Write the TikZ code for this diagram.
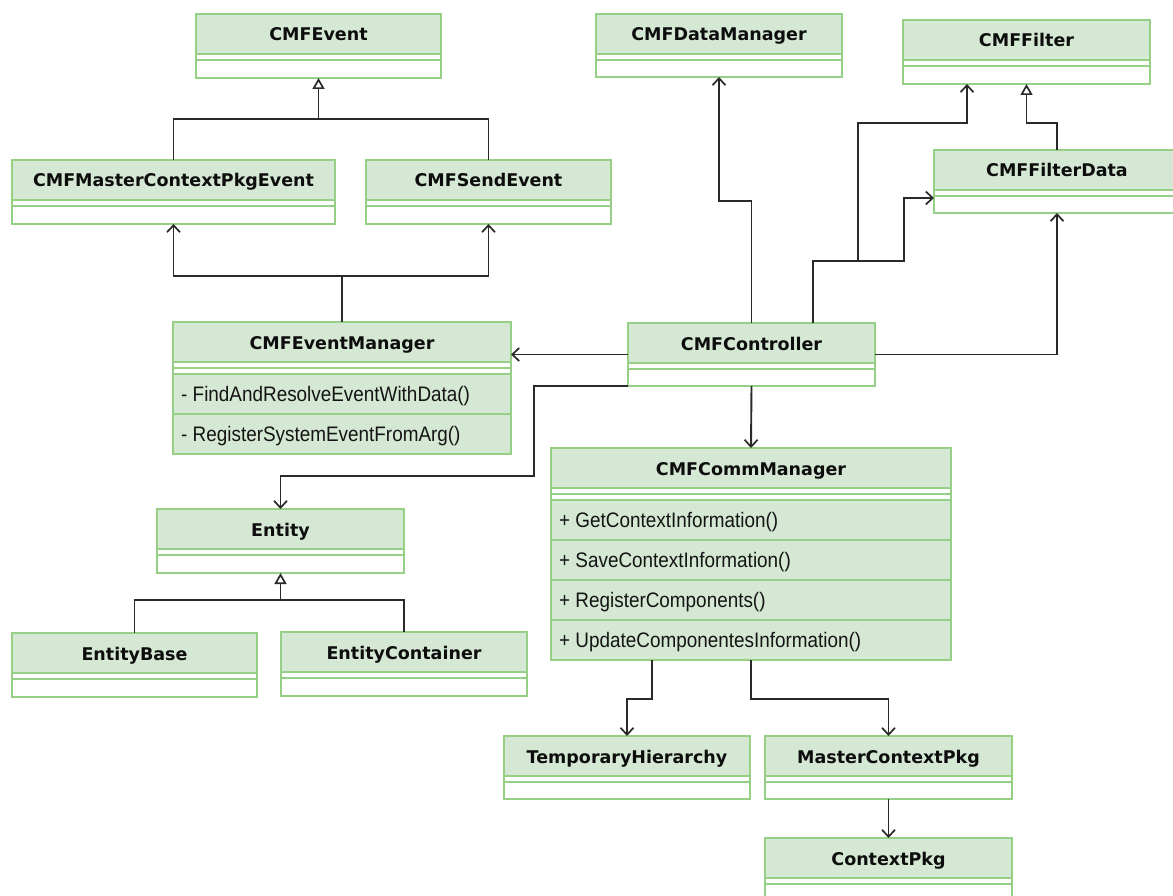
\documentclass[tikz,border=0pt]{standalone}
\usepackage{fontspec}
\newfontfamily\titlefont{DejaVu Sans}
\newfontfamily\opfont{Liberation Sans}[FakeStretch=0.9]
\usetikzlibrary{arrows.meta}
\definecolor{hdrfill}{HTML}{D5E8D4}
\definecolor{edgegreen}{HTML}{96CF86}
\definecolor{wire}{HTML}{2A2A2A}
\tikzset{
  classframe/.style={rectangle, draw=edgegreen, line width=1.6pt, inner sep=0pt, outer sep=0pt},
  rulegreen/.style={draw=edgegreen, line width=1.6pt},
  classtitle/.style={font=\titlefont\bfseries\fontsize{17.5}{20}\selectfont, text=black!95, inner sep=0pt, anchor=base},
  optext/.style={font=\opfont\fontsize{21}{24}\selectfont, text=black!92, inner sep=0pt, anchor=base west},
  wireline/.style={draw=wire, line width=1.9pt},
  assoc/.style={wireline, -{Straight Barb[length=7pt,width=13pt,line width=1.7pt]}},
  gen/.style={wireline, -{Triangle[open,length=11pt,width=12pt,fill=white,line width=1.7pt]}},
}
% body of a class: white box, green name band, two compartment rules
\newcommand{\umlbody}[4]{%
  \fill[white] (#1,#2) rectangle (#3,#4);
  \fill[hdrfill] (#1,#2) rectangle (#3,{#2+40});
  \draw[rulegreen] (#1,{#2+40}) -- (#3,{#2+40});
  \draw[rulegreen] (#1,{#2+46}) -- (#3,{#2+46});
}
% named outline of a class with its title
\newcommand{\umlframe}[6]{%
  \node[classframe, minimum width={#4-#2}, minimum height={#5-#3}, anchor=north west] (#1) at (#2,#3) {};
  \node[classtitle] (#1-name) at ({(#2+#4)/2},{#3+27}) {#6};
}
% one operation row: name, left, right, top, bottom, text
\newcommand{\umlrow}[6]{%
  \fill[hdrfill] (#2,#4) rectangle (#3,#5);
  \draw[rulegreen] (#2,#4) -- (#3,#4);
  \node[optext] (#1) at ({#2+8},{#4+27}) {#6};
}
\begin{document}
\begin{tikzpicture}[x=1pt,y=-1pt]
\useasboundingbox (0,0) rectangle (1173,896);
\clip (0,0) rectangle (1173,896);
\fill[white] (0,0) rectangle (1173,896);

% simple classes
\umlbody{196}{14}{441}{78}\umlframe{event}{196}{14}{441}{78}{CMFEvent}
\umlbody{596}{14}{842}{77}\umlframe{dm}{596}{14}{842}{77}{CMFDataManager}
\umlbody{903}{20}{1150}{84}\umlframe{filter}{903}{20}{1150}{84}{CMFFilter}
\umlbody{12}{160}{335}{224}\umlframe{master}{12}{160}{335}{224}{CMFMasterContextPkgEvent}
\umlbody{366}{160}{611}{224}\umlframe{send}{366}{160}{611}{224}{CMFSendEvent}
\umlbody{934}{150}{1180}{213}\umlframe{fdata}{934}{150}{1180}{213}{CMFFilterData}
\umlbody{628}{323}{875}{386}\umlframe{ctrl}{628}{323}{875}{386}{CMFController}
\umlbody{157}{509}{404}{573}\umlframe{entity}{157}{509}{404}{573}{Entity}
\umlbody{12}{633}{257}{697}\umlframe{ebase}{12}{633}{257}{697}{EntityBase}
\umlbody{281}{632}{527}{696}\umlframe{econt}{281}{632}{527}{696}{EntityContainer}
\umlbody{504}{736}{750}{799}\umlframe{temph}{504}{736}{750}{799}{TemporaryHierarchy}
\umlbody{765}{736}{1012}{799}\umlframe{mcp}{765}{736}{1012}{799}{MasterContextPkg}
\umlbody{765}{838}{1012}{902}\umlframe{cpkg}{765}{838}{1012}{902}{ContextPkg}

% event manager with private operations
\umlbody{173}{322}{511}{454}
\umlrow{evm-op1}{173}{511}{374}{414}{- FindAndResolveEventWithData()}
\umlrow{evm-op2}{173}{511}{414}{454}{- RegisterSystemEventFromArg()}
\umlframe{evmgr}{173}{322}{511}{454}{CMFEventManager}

% communication manager with public operations
\umlbody{551}{448}{951}{660}
\umlrow{com-op1}{551}{951}{500}{540}{+ GetContextInformation()}
\umlrow{com-op2}{551}{951}{540}{580}{+ SaveContextInformation()}
\umlrow{com-op3}{551}{951}{580}{620}{+ RegisterComponents()}
\umlrow{com-op4}{551}{951}{620}{660}{+ UpdateComponentesInformation()}
\umlframe{comm}{551}{448}{951}{660}{CMFCommManager}

% event hierarchy
\coordinate (evgen) at (318.5,119);
\draw[wireline] (master.north) |- (evgen) -| (send.north);
\draw[gen] (evgen) -- (event.south);

% event manager uses both events
\coordinate (evfork) at (342,276);
\draw[wireline] (evmgr.north) -- (evfork);
\draw[assoc] (evfork) -| (master.south);
\draw[assoc] (evfork) -| (send.south);

% controller associations
\draw[assoc] (ctrl.west) -- (ctrl.west -| evmgr.east);
\draw[assoc] (ctrl.north) -- ++(0,-122) -| (dm.south);
\coordinate (ffork) at (813,261);
\coordinate (fbranch) at (858,261);
\coordinate (fturn) at ([xshift=-30pt,yshift=-16.5pt]fdata.west);
\draw[wireline] ([xshift=61.5pt]ctrl.north) -- (ffork) -- (fbranch);
\draw[assoc] (fbranch) -| (fturn) -- ([yshift=-16.5pt]fdata.west);
\draw[assoc] (fbranch) |- ([xshift=-59.5pt,yshift=-39pt]filter.south) -- ([xshift=-59.5pt]filter.south);
\draw[gen] (fdata.north) -- ++(0,-27) -| (filter.south);
\draw[assoc] (ctrl.east) -| (fdata.south);
\draw[assoc] (ctrl.south) -- (comm.north);
\draw[assoc] (ctrl.south west) -| ++(-94,90) -| (entity.north);

% entity hierarchy
\coordinate (engen) at (280.5,600);
\draw[wireline] (ebase.north) |- (engen) -| (econt.north);
\draw[gen] (engen) -- (entity.south);

% communication manager associations
\draw[assoc] ([xshift=-99pt]comm.south) -- ++(0,39) -| (temph.north);
\draw[assoc] (comm.south) -- ++(0,39) -| (mcp.north);
\draw[assoc] (mcp.south) -- (cpkg.north);
\end{tikzpicture}
\end{document}
